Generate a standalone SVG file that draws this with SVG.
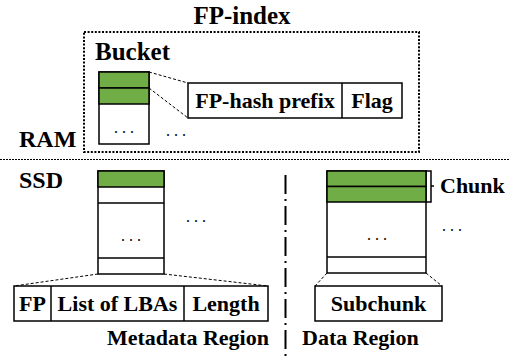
<svg xmlns="http://www.w3.org/2000/svg" width="509" height="356" viewBox="0 0 509 356" font-family="'Liberation Serif', 'Times New Roman', serif">
  <style>
    .lbl { font-weight: bold; font-size: 24px; }
    .big { font-weight: bold; font-size: 25px; }
    .cell { font-weight: bold; font-size: 22px; }
    .dots { font-size: 16px; letter-spacing: 4px; }
    .box { fill: #fff; stroke: #000; stroke-width: 1.5; }
    .green { fill: #70AD47; stroke: #000; stroke-width: 1.5; }
    .rule { stroke: #000; stroke-width: 1.5; fill: none; }
    .zoom { stroke: #000; stroke-width: 1; stroke-dasharray: 3 2; fill: none; }
  </style>

  <!-- RAM / SSD split -->
  <line x1="0" y1="159.5" x2="509" y2="159.5" stroke="#000" stroke-width="1" stroke-dasharray="2 1"/>
  <text class="lbl" x="19" y="147">RAM</text>
  <text class="lbl" x="19" y="188">SSD</text>

  <!-- FP-index in RAM -->
  <g id="fp-index">
    <rect x="84" y="32" width="335" height="120" fill="none" stroke="#000" stroke-width="2" stroke-dasharray="2 1.6"/>
    <text class="big" x="242" y="24" text-anchor="middle">FP-index</text>
    <text class="big" x="95" y="60">Bucket</text>
  </g>

  <g id="bucket">
    <rect class="box" x="99" y="72" width="50" height="72"/>
    <rect class="green" x="99" y="72" width="50" height="16"/>
    <rect class="green" x="99" y="88" width="50" height="16"/>
    <text class="dots" x="126" y="133" text-anchor="middle">...</text>
    <text class="dots" x="178" y="136" text-anchor="middle">...</text>
  </g>

  <g id="fp-entry">
    <rect class="box" x="188" y="83" width="214" height="35"/>
    <line class="rule" x1="342" y1="83" x2="342" y2="118"/>
    <text class="cell" x="265" y="108" text-anchor="middle">FP-hash prefix</text>
    <text class="cell" x="372" y="108" text-anchor="middle">Flag</text>
  </g>

  <!-- Metadata region -->
  <g id="metadata-stack">
    <rect class="box" x="98" y="171" width="66" height="103"/>
    <rect class="green" x="98" y="171" width="66" height="16"/>
    <line class="rule" x1="98" y1="203" x2="164" y2="203"/>
    <line class="rule" x1="98" y1="258" x2="164" y2="258"/>
    <text class="dots" x="133" y="241" text-anchor="middle">...</text>
    <text class="dots" x="198" y="222" text-anchor="middle">...</text>
  </g>

  <g id="metadata-entry">
    <rect class="box" x="14" y="286" width="254" height="35"/>
    <line class="rule" x1="51" y1="286" x2="51" y2="321"/>
    <line class="rule" x1="184" y1="286" x2="184" y2="321"/>
    <text class="cell" x="32.5" y="311" text-anchor="middle">FP</text>
    <text class="cell" x="117.5" y="311" text-anchor="middle">List of LBAs</text>
    <text class="cell" x="226" y="311" text-anchor="middle">Length</text>
  </g>

  <text class="cell" x="107" y="345">Metadata Region</text>

  <!-- Region divider -->
  <line x1="285.5" y1="175" x2="285.5" y2="356" stroke="#000" stroke-width="2" stroke-dasharray="19 5 2 5"/>

  <!-- Data region -->
  <g id="data-stack">
    <rect class="box" x="327" y="171" width="99" height="102"/>
    <rect class="green" x="327" y="171" width="99" height="15.5"/>
    <rect class="green" x="327" y="186.5" width="99" height="15.5"/>
    <line class="rule" x1="327" y1="257" x2="426" y2="257"/>
    <text class="dots" x="379" y="240" text-anchor="middle">...</text>
    <text class="dots" x="454" y="231" text-anchor="middle">...</text>
  </g>

  <g id="chunk-label">
    <path class="rule" stroke-width="1" d="M426 171 H431 V186 H434 M431 186 V202 H426"/>
    <text class="cell" x="440" y="193">Chunk</text>
  </g>

  <g id="subchunk">
    <rect class="box" x="315" y="286" width="127" height="35"/>
    <text class="cell" x="378.5" y="311" text-anchor="middle">Subchunk</text>
  </g>

  <text class="cell" x="302" y="345">Data Region</text>

  <!-- Zoom-in guides -->
  <g id="connectors">
    <line class="zoom" x1="149" y1="72" x2="188" y2="83"/>
    <line class="zoom" x1="149" y1="88" x2="188" y2="118"/>
    <line class="zoom" x1="98" y1="274" x2="14" y2="286"/>
    <line class="zoom" x1="164" y1="274" x2="268" y2="286"/>
    <line class="zoom" x1="327" y1="273" x2="315" y2="286"/>
    <line class="zoom" x1="426" y1="273" x2="442" y2="286"/>
  </g>
</svg>
